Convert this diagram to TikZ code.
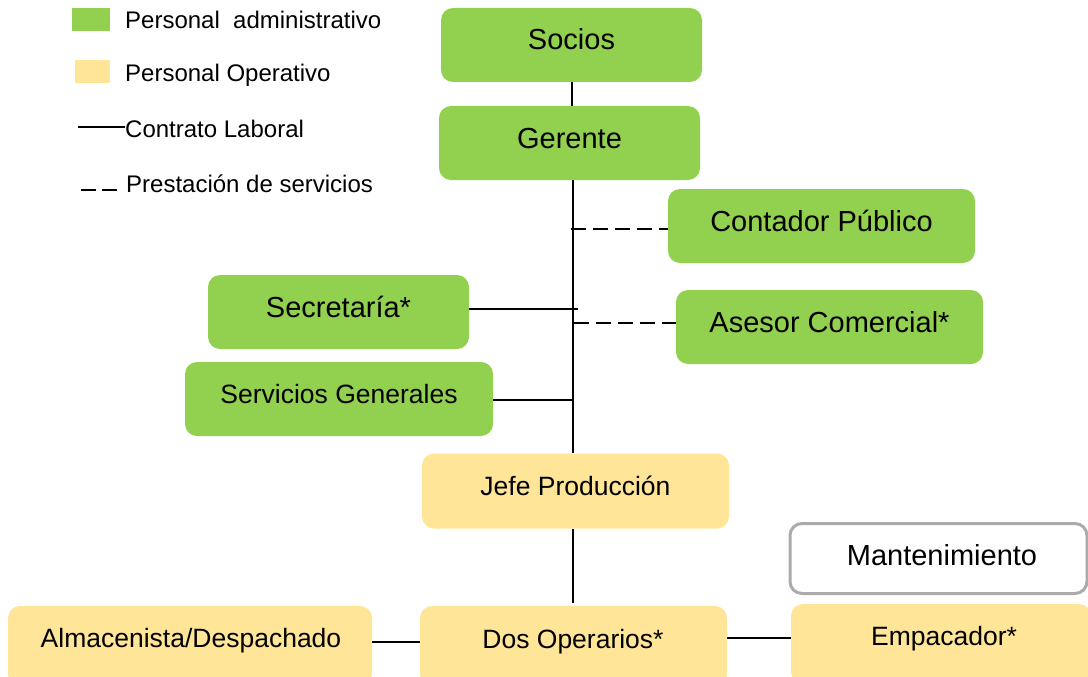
\documentclass[tikz,border=0pt]{standalone}
\usepackage{fontspec}
\setmainfont{Liberation Sans}
\definecolor{adm}{HTML}{92D050}
\definecolor{ope}{HTML}{FFE597}
\definecolor{brd}{HTML}{ABABAB}
\begin{document}
\begin{tikzpicture}[x=1pt,y=-1pt,
  box/.style={rectangle,rounded corners=12pt,inner sep=0pt,anchor=center},
  admbox/.style={box,fill=adm},
  opebox/.style={box,fill=ope},
  big/.style={font=\fontsize{29}{34}\selectfont,text height=20.8pt,text depth=10.8pt},
  mid/.style={font=\fontsize{26.5}{31}\selectfont,text height=19pt,text depth=10pt},
  bigc/.style={font=\fontsize{29}{34}\selectfont,text height=20.8pt,text depth=0pt,inner sep=0pt},
  midc/.style={font=\fontsize{26.5}{31}\selectfont,text height=19pt,text depth=0pt,inner sep=0pt},
  leg/.style={font=\fontsize{24}{28}\selectfont,anchor=west,inner sep=0pt},
  conn/.style={line width=1.8pt},
  dconn/.style={line width=1.8pt,dash pattern=on 15pt off 7pt}]
\useasboundingbox (0,0) rectangle (1088,677);
% legend
\node[fill=adm,minimum width=38pt,minimum height=23pt,inner sep=0pt] (lgA) at (91,19.5) {};
\node[fill=ope,minimum width=35pt,minimum height=23pt,inner sep=0pt] (lgO) at (92.5,71.5) {};
\node[leg] (tA) at (125,20) {Personal\ \ administrativo};
\node[leg] (tO) at (125,75) {Personal Operativo};
\node[leg] (tC) at (125,129) {Contrato Laboral};
\node[leg] (tP) at (126,184) {Prestación de servicios};
\coordinate (lc1) at (78,127);
\draw[line width=1.6pt] (lc1) -- (tC.west |- lc1);
\coordinate (lp1) at (81,190);
\coordinate (lp2) at (118,190);
\draw[line width=1.6pt,dash pattern=on 15pt off 6pt] (lp1) -- (lp2);
% boxes
\node[admbox,big,minimum width=261pt,minimum height=74pt] (soc) at (571.5,45) {Socios};
\node[admbox,big,minimum width=261pt,minimum height=74pt] (ger) at (569.5,143) {Gerente};
\node[admbox,big,minimum width=307pt,minimum height=74pt] (con) at (821.5,226) {Contador Público};
\node[admbox,big,minimum width=261pt,minimum height=74pt] (sec) at (338.5,312) {Secretaría*};
\node[admbox,big,minimum width=307pt,minimum height=74pt] (ase) at (829.5,327) {Asesor Comercial*};
\node[admbox,mid,minimum width=308pt,minimum height=74pt] (ser) at (339,399) {Servicios Generales};
\node[opebox,mid,minimum width=307pt,minimum height=75pt] (jef) at (575.5,491) {Jefe Producción};
\node[box,draw=brd,line width=3pt,fill=white,minimum width=297pt,minimum height=70pt] (man) at (938.5,558.5) {};
\node[bigc] (manT) at (942,555) {Mantenimiento};
\node[opebox,minimum width=364pt,minimum height=80pt] (alm) at (190,646) {};
\node[midc] (almT) at (191,638) {Almacenista/Despachado};
\node[opebox,minimum width=307pt,minimum height=80pt] (dos) at (573.5,646) {};
\node[midc] (dosT) at (573,639) {Dos Operarios*};
\node[opebox,minimum width=300pt,minimum height=80pt] (emp) at (941,644) {};
\node[midc] (empT) at (944,636) {Empacador*};
% trunk
\coordinate (t0) at (572,82);
\coordinate (t1) at (573,180);
\coordinate (tCon) at (571,229);
\coordinate (tSec) at (578,309);
\coordinate (tAse) at (574,323);
\coordinate (tSer) at (573,400);
\coordinate (tJef) at (573,529);
\coordinate (tDos) at (573,603);
\coordinate (lAlm) at (372,642);
\coordinate (lEmp) at (727,638);
\draw[conn] (t0) -- (t0 |- ger.north);
\draw[conn] (t1) -- (t1 |- jef.north);
\draw[conn] (tJef) -- (tDos);
\draw[dconn] (tCon) -- (con.west |- tCon);
\draw[conn] (sec.east |- tSec) -- (tSec);
\draw[dconn] (tAse) -- (ase.west |- tAse);
\draw[conn] (ser.east |- tSer) -- (tSer);
\draw[conn] (lAlm) -- (dos.west |- lAlm);
\draw[conn] (lEmp) -- (emp.west |- lEmp);
\end{tikzpicture}
\end{document}
